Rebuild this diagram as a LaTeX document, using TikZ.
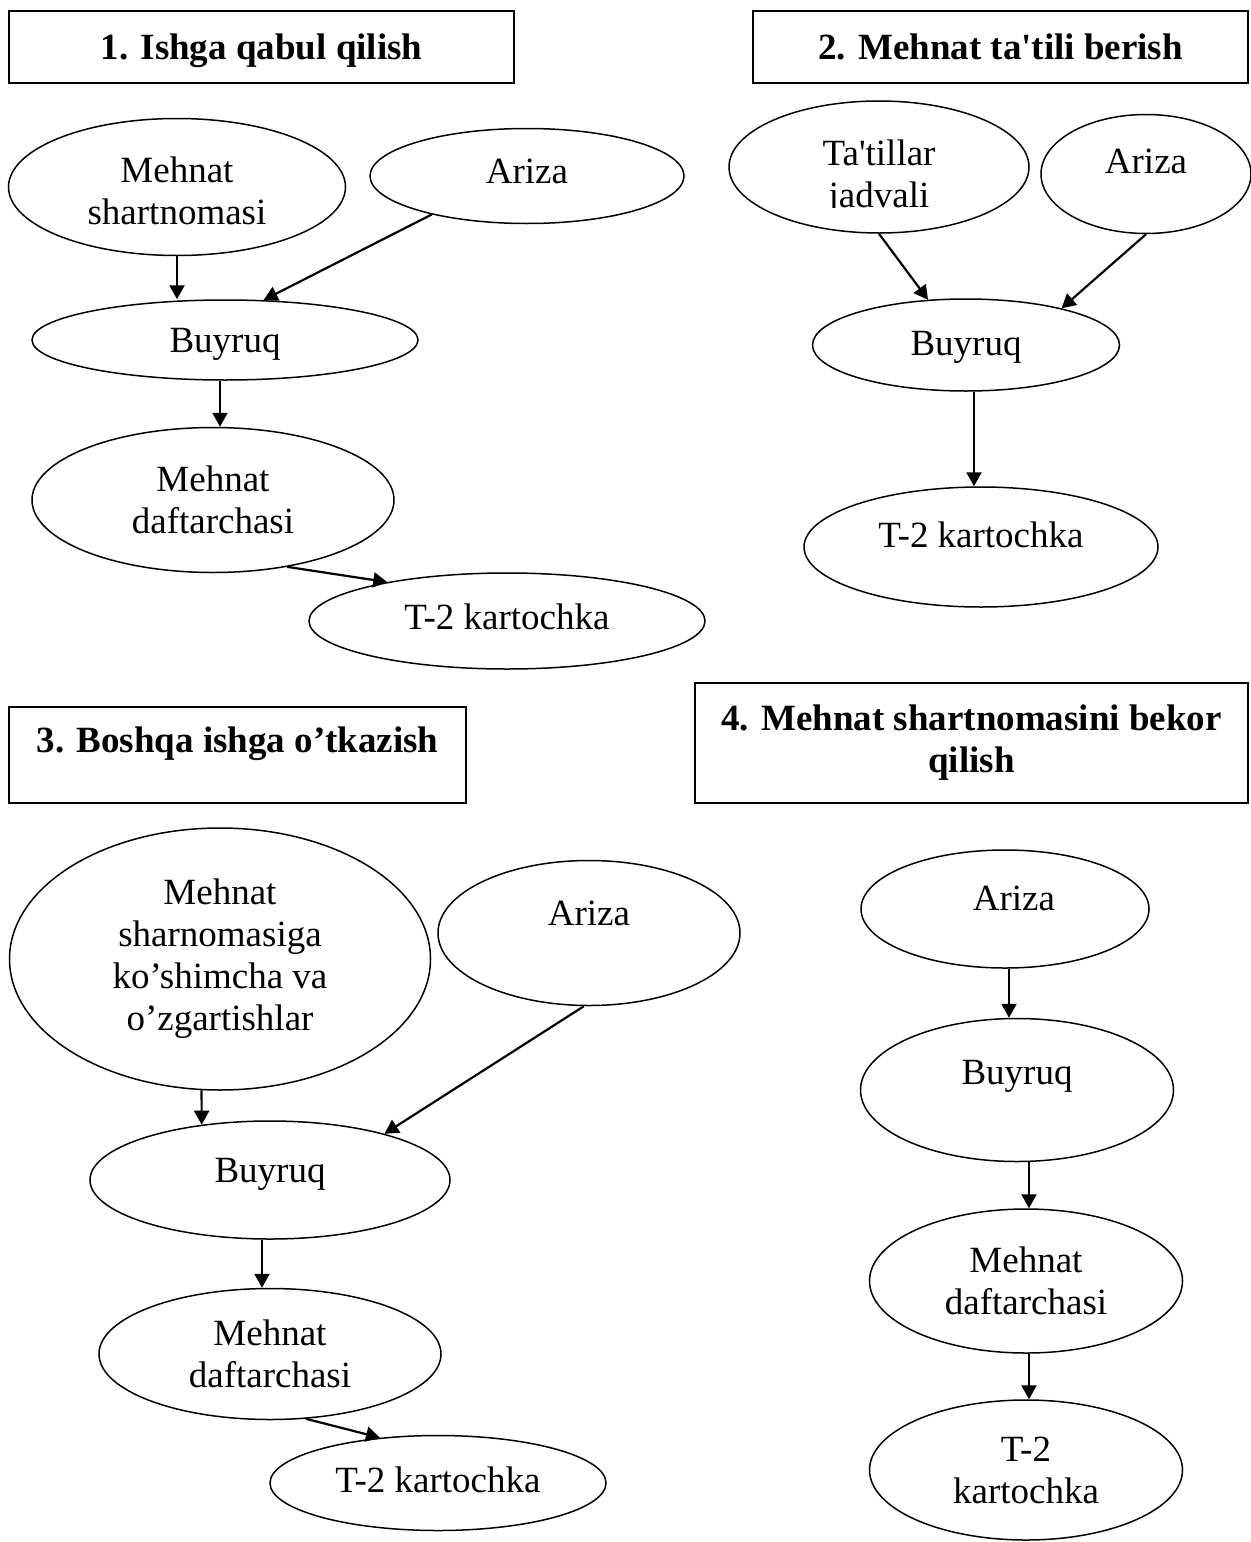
\documentclass[tikz,border=0pt]{standalone}
\usepackage{fontspec}
\setmainfont{Liberation Serif}
\usepackage{trimclip}
\usetikzlibrary{shapes.geometric,arrows.meta}
\newcommand\lift[2]{\raisebox{#1}{#2}}
\begin{document}
\begin{tikzpicture}[x=0.5pt,y=-0.5pt,
  every node/.style={font=\fontsize{18.5}{21}\selectfont},
  ell/.style={ellipse, draw, line width=0.75pt, inner sep=0pt, align=center},
  one/.style={text height=12.5pt, text depth=0pt},
  tbox/.style={rectangle, draw, line width=1.25pt, inner sep=0pt, align=center,
    font=\fontsize{18.5}{21}\selectfont\bfseries},
  arr/.style={line width=1.1pt, -{Triangle[length=7pt,width=7.5pt]}}]
\useasboundingbox (0,0) rectangle (1250,1542);

% title boxes
\node[tbox, one, minimum width=252.5pt, minimum height=36pt] (h1) at (261.5,47) {1. Ishga qabul qilish};
\node[tbox, one, minimum width=247.5pt, minimum height=36pt] (h2) at (1000.5,47) {2. Mehnat ta\textquotesingle tili berish};
\node[tbox, one, minimum width=228.5pt, minimum height=48pt] (h3) at (237.5,755) {\lift{7.5pt}{3. Boshqa ishga o’tkazish}};
\node[tbox, minimum width=276.5pt, minimum height=60pt] (h4) at (971.5,743) {4. Mehnat shartnomasini bekor\\qilish};

% section 1
\node[ell, minimum width=168.5pt, minimum height=68.5pt] (ms1) at (177,187) {\rule{0pt}{16.6pt}Mehnat\\shartnomasi};
\node[ell, one, minimum width=157pt, minimum height=47.5pt] (ari1) at (527,176) {\lift{2.5pt}{Ariza}};
\node[ell, one, minimum width=193pt, minimum height=40pt] (buy1) at (225,340) {Buyruq};
\node[ell, minimum width=181pt, minimum height=72.5pt] (md1) at (213,500) {Mehnat\\daftarchasi};
\node[ell, one, minimum width=198pt, minimum height=48pt] (t21) at (507,621) {\lift{2pt}{T-2 kartochka}};

% section 2
\node[ell, minimum width=150pt, minimum height=66pt] (tat) at (879,167) {\rule{0pt}{19.6pt}Ta\textquotesingle tillar\\\clipbox{0pt {\depth} 0pt 0pt}{jadvali}};
\node[ell, one, minimum width=105pt, minimum height=59.5pt] (ari2) at (1146,174) {\lift{6.5pt}{Ariza}};
\node[ell, one, minimum width=153.5pt, minimum height=46pt] (buy2) at (966,345) {\lift{1pt}{Buyruq}};
\node[ell, one, minimum width=177pt, minimum height=60pt] (t22) at (981,547) {\lift{6pt}{T-2 kartochka}};

% section 3
\node[ell, minimum width=210.5pt, minimum height=131pt] (big) at (220,959) {Mehnat\\sharnomasiga\\ko’shimcha va\\o’zgartishlar};
\node[ell, one, minimum width=151pt, minimum height=72.5pt] (ari3) at (589,933) {\lift{10pt}{Ariza}};
\node[ell, one, minimum width=180pt, minimum height=59pt] (buy3) at (270,1180) {\lift{5pt}{Buyruq}};
\node[ell, minimum width=171pt, minimum height=65.5pt] (md3) at (270,1354) {Mehnat\\daftarchasi};
\node[ell, one, minimum width=168pt, minimum height=47.5pt] (t23) at (438,1483) {\lift{1.5pt}{T-2 kartochka}};

% section 4
\node[ell, one, minimum width=144pt, minimum height=59pt] (ari4) at (1005,909) {\lift{5.5pt}{\hspace*{9pt}Ariza}};
\node[ell, one, minimum width=156.5pt, minimum height=71.5pt] (buy4) at (1017,1090) {\lift{9pt}{Buyruq}};
\node[ell, minimum width=156.5pt, minimum height=72pt] (md4) at (1026,1281) {Mehnat\\daftarchasi};
\node[ell, minimum width=156.5pt, minimum height=70pt] (t24) at (1026,1470) {T-2\\kartochka};

% connectors
\draw[arr] (ms1.south) -- (ms1.south |- buy1.north);
\draw[arr] (ari1.202) -- (buy1.46);
\draw[arr] ([xshift=-2.5pt]buy1.south) -- ([xshift=3.5pt]md1.north);
\draw[arr] (md1.-42) -- (t21.162);

\draw[arr] (tat.south) -- (buy2.130);
\draw[arr] (ari2.south) -- (buy2.21);
\draw[arr] ([xshift=4pt]buy2.south) -- ([xshift=-3.5pt]t22.north);

\draw[arr] (big.262) -- (buy3.141);
\draw[arr] (ari3.266) -- (buy3.22);
\draw[arr] ([xshift=-4pt]buy3.south) -- ([xshift=-4pt]md3.north);
\draw[arr] (md3.-61) -- (t23.142);

\draw[arr] ([xshift=2pt]ari4.south) -- ([xshift=-4pt]buy4.north);
\draw[arr] ([xshift=6pt]buy4.south) -- ([xshift=1.5pt]md4.north);
\draw[arr] ([xshift=1.5pt]md4.south) -- ([xshift=1.5pt]t24.north);
\end{tikzpicture}
\end{document}
